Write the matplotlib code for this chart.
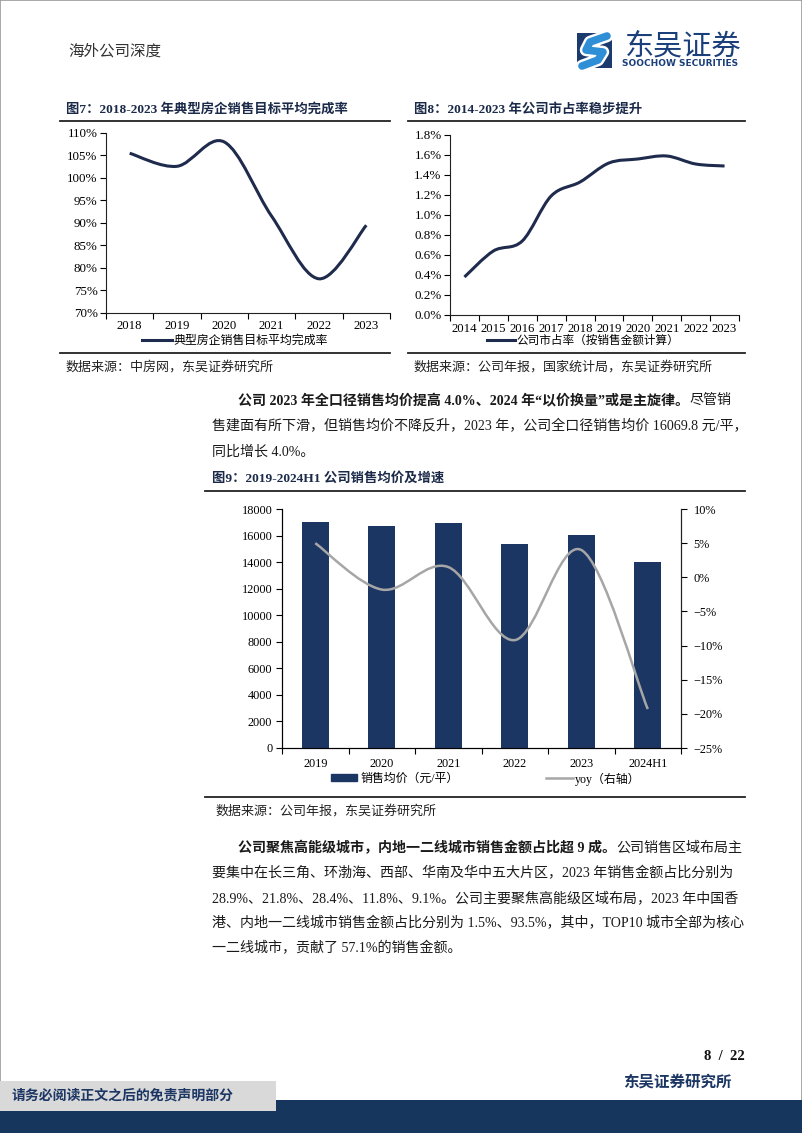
import matplotlib
matplotlib.use('Agg')
import matplotlib.pyplot as plt
import numpy as np
from matplotlib.path import Path
from matplotlib.patches import PathPatch, Rectangle, Patch
from matplotlib.lines import Line2D

plt.rcParams['font.family'] = ['Liberation Serif', 'Noto Sans CJK SC']
plt.rcParams['axes.unicode_minus'] = True

# ---- 数据 ----
years7 = ['2018', '2019', '2020', '2021', '2022', '2023']
rate7 = [105.5, 102.6, 108.0, 91.5, 77.6, 89.5]          # %

years8 = ['2014', '2015', '2016', '2017', '2018', '2019', '2020', '2021', '2022', '2023']
share8 = [0.38, 0.64, 0.74, 1.19, 1.33, 1.52, 1.56, 1.59, 1.51, 1.49]  # %

years9 = ['2019', '2020', '2021', '2022', '2023', '2024H1']
price9 = [17000, 16700, 16950, 15400, 16070, 14030]      # 元/平
yoy9 = [5.0, -1.8, 1.5, -9.2, 4.0, -19.3]                 # %

W, H = 802, 1133
NAVY = '#1c3664'
fig = plt.figure(figsize=(W / 100, H / 100), dpi=100)


def fx(x):
    return x / W


def fy(y):
    return 1 - y / H


def axes_px(l, t, r, b):
    return fig.add_axes([fx(l), fy(b), (r - l) / W, (b - t) / H])


def hline(x0, x1, y, lw=1.3, color='#222222'):
    fig.add_artist(Line2D([fx(x0), fx(x1)], [fy(y), fy(y)], lw=lw, color=color,
                          transform=fig.transFigure))


def txt(x, y, s, **kw):
    kw.setdefault('va', 'center')
    return fig.text(fx(x), fy(y), s, **kw)


def smooth_path(ys):
    # 平滑折线 (Bezier), 与 Excel 的平滑线类似
    pts = np.column_stack([np.arange(len(ys)), ys]).astype(float)
    n = len(pts)
    verts, codes = [pts[0]], [Path.MOVETO]
    for i in range(n - 1):
        p0 = pts[i - 1] if i > 0 else pts[i]
        p1, p2 = pts[i], pts[i + 1]
        p3 = pts[i + 2] if i + 2 < n else pts[i + 1]
        verts += [p1 + (p2 - p0) / 6, p2 - (p3 - p1) / 6, p2]
        codes += [Path.CURVE4] * 3
    return Path(verts, codes)


def cat_axis(ax, labels, fs, pad):
    n = len(labels)
    ax.set_xlim(-0.5, n - 0.5)
    ax.set_xticks(np.arange(-0.5, n, 1.0))
    ax.set_xticklabels([])
    ax.set_xticks(np.arange(n), minor=True)
    ax.set_xticklabels(labels, minor=True, fontsize=fs)
    ax.tick_params(axis='x', which='minor', length=0, pad=pad)
    ax.tick_params(axis='x', which='major', length=4, width=0.8, direction='out')


def style(ax):
    for s in ['top', 'right']:
        ax.spines[s].set_visible(False)
    for s in ['left', 'bottom']:
        ax.spines[s].set_linewidth(0.8)
        ax.spines[s].set_color('#222222')
    ax.tick_params(axis='y', length=4, width=0.8, direction='out', pad=2)


# ---- 页眉 ----
fig.add_artist(Rectangle((0, 0), 1, 1, transform=fig.transFigure, fill=False,
                         ec='#999999', lw=1.2))
txt(68, 52, '海外公司深度', fontsize=11.2, color='#333333', ha='left')
fig.add_artist(Rectangle((fx(577), fy(68)), 35 / W, 35 / H, transform=fig.transFigure,
                         fc='#1b3a6e', ec='none'))
logo_x = [fx(607), fx(590), fx(586), fx(603), fx(598), fx(582)]
logo_y = [fy(36), fy(42), fy(50), fy(52), fy(60), fy(66)]
fig.add_artist(Line2D(logo_x, logo_y, lw=9, color='white', solid_capstyle='round',
                      transform=fig.transFigure))
fig.add_artist(Line2D(logo_x, logo_y, lw=5.5, color='#2f8fd6', solid_capstyle='round',
                      transform=fig.transFigure))
txt(625, 46, '东吴证券', fontsize=21, color='#1b3f7a', ha='left',
    family=['Noto Sans CJK SC'])
txt(622, 64, 'SOOCHOW SECURITIES', fontsize=6.5, color='#1b3f7a', ha='left',
    family=['DejaVu Sans'], weight='bold')

# ---- 图7 ----
txt(66, 109, '图7：2018-2023 年典型房企销售目标平均完成率', fontsize=9.6,
    weight='bold', color='#1a2a48', ha='left')
hline(60, 390, 121)
ax7 = axes_px(106, 133, 390, 313)
style(ax7)
ax7.add_patch(PathPatch(smooth_path(rate7), fill=False, ec='#1f2b4d', lw=2.2))
ax7.set_ylim(70, 110)
ax7.set_yticks(np.arange(70, 111, 5))
ax7.set_yticklabels([f'{v}%' for v in range(70, 111, 5)], fontsize=9.4)
cat_axis(ax7, years7, 9.2, 5)
fig.legend(handles=[Line2D([], [], color='#1f2b4d', lw=2.2)],
           labels=['典型房企销售目标平均完成率'], loc='center',
           bbox_to_anchor=(fx(235), fy(341)), frameon=False, fontsize=8.6,
           handlelength=2.5, handletextpad=0.1, borderpad=0)
hline(60, 390, 353)
txt(66, 367, '数据来源：中房网，东吴证券研究所', fontsize=9.4, color='#222222', ha='left')

# ---- 图8 ----
txt(414, 109, '图8：2014-2023 年公司市占率稳步提升', fontsize=9.6,
    weight='bold', color='#1a2a48', ha='left')
hline(408, 745, 121)
ax8 = axes_px(450, 135, 739, 315)
style(ax8)
ax8.add_patch(PathPatch(smooth_path(share8), fill=False, ec='#1f2b4d', lw=2.2))
ax8.set_ylim(0, 1.8)
ax8.set_yticks(np.arange(0, 1.81, 0.2))
ax8.set_yticklabels([f'{v:.1f}%' for v in np.arange(0, 1.81, 0.2)], fontsize=9.4)
cat_axis(ax8, years8, 9.2, 6)
fig.legend(handles=[Line2D([], [], color='#1f2b4d', lw=2.2)],
           labels=['公司市占率（按销售金额计算）'], loc='center',
           bbox_to_anchor=(fx(583), fy(341)), frameon=False, fontsize=8.4,
           handlelength=2.4, handletextpad=0.1, borderpad=0)
hline(408, 745, 353)
txt(414, 367, '数据来源：公司年报，国家统计局，东吴证券研究所', fontsize=9.4,
    color='#222222', ha='left')


# ---- 正文 ----
def rich_line(x, y, parts, fs=10.1):
    r = fig.canvas.get_renderer()
    for s, bold in parts:
        t = txt(x, y, s, fontsize=fs, ha='left', color='#1a1a1a',
                weight='bold' if bold else 'normal')
        bb = t.get_window_extent(renderer=r)
        x += bb.width


rich_line(238, 400, [('公司 2023 年全口径销售均价提高 4.0%、2024 年“以价换量”或是主旋律。', True),
                     ('尽管销', False)])
rich_line(212, 426, [('售建面有所下滑，但销售均价不降反升，2023 年，公司全口径销售均价 16069.8 元/平，', False)])
rich_line(212, 452, [('同比增长 4.0%。', False)])

# ---- 图9 ----
txt(212, 478, '图9：2019-2024H1 公司销售均价及增速', fontsize=9.6,
    weight='bold', color='#1a2a48', ha='left')
hline(205, 745, 491)
ax9 = axes_px(282, 509, 681, 748)
ax9.spines['top'].set_visible(False)
for s in ['left', 'bottom', 'right']:
    ax9.spines[s].set_linewidth(0.8)
    ax9.spines[s].set_color('#222222')
ax9.bar(np.arange(len(years9)), price9, width=0.4, color=NAVY, zorder=2)
ax9.set_ylim(0, 18000)
ax9.set_yticks(np.arange(0, 18001, 2000))
ax9.set_yticklabels([str(v) for v in range(0, 18001, 2000)], fontsize=8.8)
ax9.tick_params(axis='y', length=4, width=0.8, direction='out', pad=3)
cat_axis(ax9, years9, 8.8, 7)
ax9r = ax9.twinx()
ax9r.spines['top'].set_visible(False)
ax9r.spines['right'].set_linewidth(0.8)
ax9r.spines['right'].set_color('#222222')
ax9r.add_patch(PathPatch(smooth_path(yoy9), fill=False, ec='#a6a6a6', lw=1.8, zorder=3))
ax9r.set_ylim(-25, 10)
ax9r.set_yticks(np.arange(-25, 11, 5))
ax9r.set_yticklabels([f'{v}%'.replace('-', '\u2212') for v in range(-25, 11, 5)], fontsize=8.8)
ax9r.tick_params(axis='y', length=4, width=0.8, direction='out', pad=5)
fig.legend(handles=[Patch(color=NAVY)], labels=['销售均价（元/平）'], loc='center left',
           bbox_to_anchor=(fx(325), fy(779)), frameon=False, fontsize=8.6,
           handlelength=2.2, handleheight=0.55, handletextpad=0.3, borderpad=0)
fig.legend(handles=[Line2D([], [], color='#a6a6a6', lw=1.8)], labels=['yoy（右轴）'],
           loc='center left', bbox_to_anchor=(fx(540), fy(779)), frameon=False,
           fontsize=8.6, handlelength=2.3, handletextpad=0.1, borderpad=0)
hline(205, 745, 797)
txt(216, 811, '数据来源：公司年报，东吴证券研究所', fontsize=9.4, color='#222222', ha='left')

# ---- 正文 2 ----
rich_line(238, 848, [('公司聚焦高能级城市，内地一二线城市销售金额占比超 9 成。', True),
                     ('公司销售区域布局主', False)])
rich_line(212, 873, [('要集中在长三角、环渤海、西部、华南及华中五大片区，2023 年销售金额占比分别为', False)])
rich_line(212, 898, [('28.9%、21.8%、28.4%、11.8%、9.1%。公司主要聚焦高能级区域布局，2023 年中国香', False)])
rich_line(212, 923, [('港、内地一二线城市销售金额占比分别为 1.5%、93.5%，其中，TOP10 城市全部为核心', False)])
rich_line(212, 948, [('一二线城市，贡献了 57.1%的销售金额。', False)])

# ---- 页脚 ----
txt(745, 1057, '8  /  22', fontsize=10.5, weight='bold', ha='right', color='#111111')
txt(732, 1083, '东吴证券研究所', fontsize=11.2, weight='bold', ha='right', color=NAVY)
fig.add_artist(Rectangle((0, fy(1133)), 1, 33 / H, transform=fig.transFigure,
                         fc='#17365d', ec='none'))
fig.add_artist(Rectangle((0, fy(1111)), 276 / W, 30 / H, transform=fig.transFigure,
                         fc='#d9d9d9', ec='none'))
txt(12, 1096, '请务必阅读正文之后的免责声明部分', fontsize=10, weight='bold',
    ha='left', color=NAVY)

fig.savefig('out.png', dpi=100)
